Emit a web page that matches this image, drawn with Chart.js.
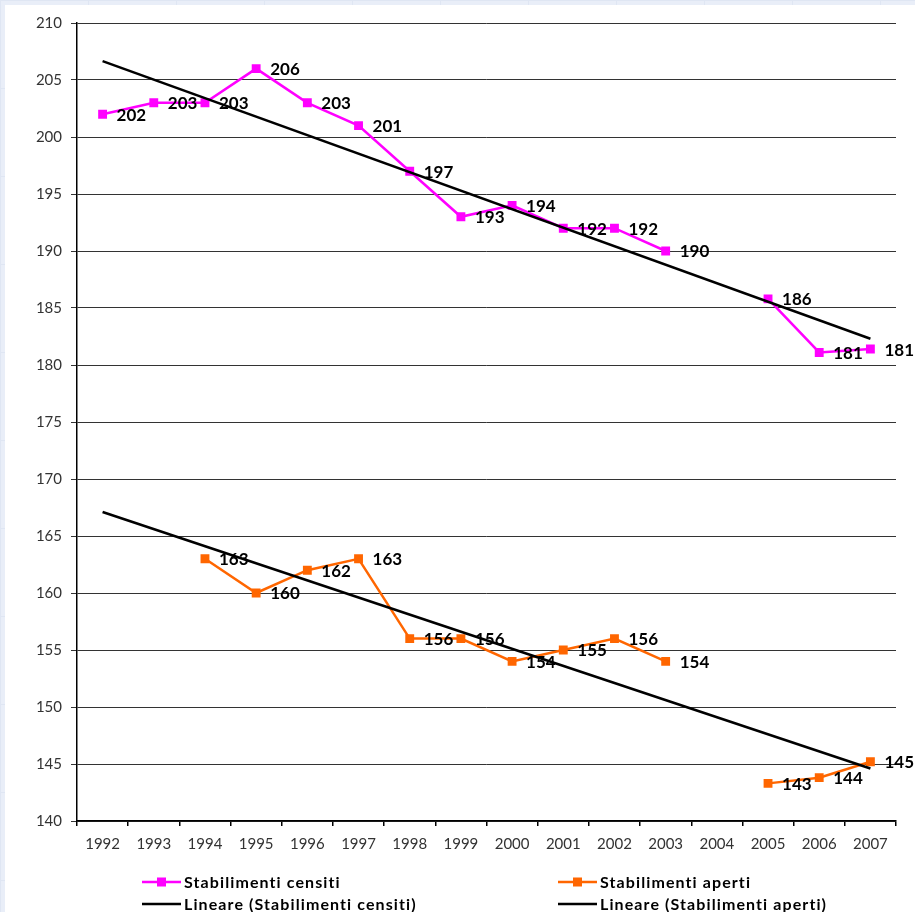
<!DOCTYPE html>
<html>
<head>
<meta charset="utf-8">
<script src="https://cdn.jsdelivr.net/npm/chart.js@4/dist/chart.umd.min.js"></script>
<style>
  html, body { margin:0; padding:0; width:915px; height:912px; overflow:hidden;
    background-color:#e9eef8;
    background-image: linear-gradient(#dfe6f3 1px, transparent 1px), linear-gradient(90deg, #dfe6f3 1px, transparent 1px);
    background-size: 88px 88px; }
  #wrap { position:absolute; left:5px; top:5px; width:910px; height:907px; background:#fff; }
  canvas { display:block; }
</style>
</head>
<body>
<div id="wrap"><canvas id="c" width="910" height="907"></canvas></div>
<script>
const categories = ['1992','1993','1994','1995','1996','1997','1998','1999','2000','2001','2002','2003','2004','2005','2006','2007'];
const censiti = [202, 203, 203, 206, 203, 201, 197, 193, 194, 192, 192, 190, null, 185.8, 181.1, 181.4];
const aperti  = [null, null, 163, 160, 162, 163, 156, 156, 154, 155, 156, 154, null, 143.3, 143.8, 145.2];
const trendCensiti = [206.65, null, null, null, null, null, null, null, null, null, null, null, null, null, null, 182.3];
const trendAperti  = [167.1, null, null, null, null, null, null, null, null, null, null, null, null, null, null, 144.6];
const yTicks = { min: 140, max: 210, step: 5 };

const labelPlugin = {
  id: 'valueLabels',
  afterDatasetsDraw(chart) {
    const ctx = chart.ctx;
    ctx.save();
    ctx.font = 'bold 17px Lato, "DejaVu Sans", sans-serif';
    ctx.fillStyle = '#000';
    ctx.textBaseline = 'middle';
    ctx.textAlign = 'left';
    chart.data.datasets.forEach((ds, i) => {
      if (!ds.showLabels) return;
      const meta = chart.getDatasetMeta(i);
      meta.data.forEach((pt, j) => {
        const v = ds.data[j];
        if (v === null || v === undefined) return;
        ctx.fillText(String(Math.round(v)), pt.x + 14, pt.y + 1);
      });
    });
    ctx.restore();
  }
};

const legendPlugin = {
  id: 'gridLegend',
  afterDraw(chart) {
    const ctx = chart.ctx;
    const ds = chart.data.datasets;
    const order = [0, 1, 2, 3];
    const pos = [[137, 877], [553, 877], [137, 899], [553, 899]];
    ctx.save();
    ctx.font = 'bold 16px Lato, "DejaVu Sans", sans-serif';
    ctx.textBaseline = 'middle';
    ctx.textAlign = 'left';
    order.forEach((di, k) => {
      const d = ds[di];
      const [x, y] = pos[k];
      ctx.strokeStyle = d.borderColor;
      ctx.lineWidth = 2.5;
      ctx.beginPath(); ctx.moveTo(x, y); ctx.lineTo(x + 39, y); ctx.stroke();
      if (d.pointRadius > 0) {
        ctx.fillStyle = d.pointBackgroundColor;
        ctx.fillRect(x + 15, y - 4.5, 9, 9);
      }
      ctx.fillStyle = '#000';
      if ('letterSpacing' in ctx) ctx.letterSpacing = '1.1px';
      ctx.fillText(d.label, x + 42, y + 1);
    });
    ctx.restore();
  }
};

new Chart(document.getElementById('c'), {
  type: 'line',
  data: {
    labels: categories,
    datasets: [
      { label: 'Stabilimenti censiti', data: censiti, borderColor: '#ff00ff', backgroundColor: '#ff00ff',
        pointBackgroundColor: '#ff00ff', pointBorderColor: '#ff00ff', pointStyle: 'rect', pointRadius: 4.5,
        borderWidth: 2.5, spanGaps: false, tension: 0, showLabels: true, order: 2 },
      { label: 'Stabilimenti aperti', data: aperti, borderColor: '#ff6600', backgroundColor: '#ff6600',
        pointBackgroundColor: '#ff6600', pointBorderColor: '#ff6600', pointStyle: 'rect', pointRadius: 4.5,
        borderWidth: 2.5, spanGaps: false, tension: 0, showLabels: true, order: 2 },
      { label: 'Lineare (Stabilimenti censiti)', data: trendCensiti, borderColor: '#000', backgroundColor: '#000',
        pointRadius: 0, borderWidth: 2.5, spanGaps: true, tension: 0, order: 1 },
      { label: 'Lineare (Stabilimenti aperti)', data: trendAperti, borderColor: '#000', backgroundColor: '#000',
        pointRadius: 0, borderWidth: 2.5, spanGaps: true, tension: 0, order: 1 }
    ]
  },
  options: {
    responsive: false,
    animation: false,
    layout: { padding: { left: 0, top: 16, right: 19, bottom: 51 } },
    plugins: { legend: { display: false }, tooltip: { enabled: false } },
    scales: {
      x: {
        offset: true,
        grid: { offset: true, drawOnChartArea: false, drawTicks: true, tickLength: 5, color: '#000', lineWidth: 1.5 },
        border: { color: '#000', width: 1.5 },
        ticks: { color: '#333', font: { family: 'Lato, "DejaVu Sans", sans-serif', size: 15 }, padding: 9, maxRotation: 0, autoSkip: false },
        afterFit(s) { s.height = 40; }
      },
      y: {
        min: yTicks.min, max: yTicks.max,
        grid: { color: '#333', lineWidth: 1, tickLength: 6, drawTicks: true },
        border: { color: '#000', width: 1.5 },
        ticks: { stepSize: yTicks.step, color: '#333', font: { family: 'Lato, "DejaVu Sans", sans-serif', size: 15 }, padding: 9 },
        afterFit(s) { s.width = 72; }
      }
    }
  },
  plugins: [labelPlugin, legendPlugin]
});
</script>
</body>
</html>
